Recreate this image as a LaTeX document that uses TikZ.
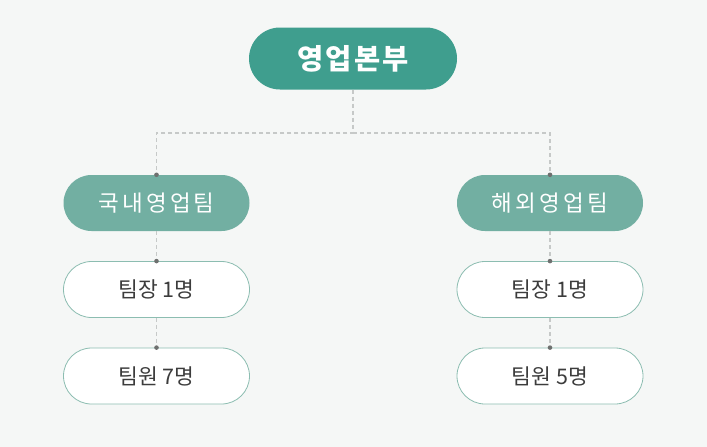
\documentclass[tikz,border=0pt]{standalone}
\usepackage{fontspec}
\newfontfamily\krhead[LetterSpace=8]{Noto Sans CJK KR}
\newfontfamily\krteam[LetterSpace=14]{Noto Sans CJK KR}
\newfontfamily\krtext{Noto Sans CJK KR}
\definecolor{hqgreen}{HTML}{3F9E8E}
\definecolor{teamgreen}{HTML}{72AFA2}
\definecolor{boxline}{HTML}{8CBDB1}
\definecolor{linkgrey}{HTML}{C6C9C8}
\definecolor{dotgrey}{HTML}{6E706F}
\definecolor{bggrey}{HTML}{F5F7F6}
\definecolor{textgrey}{HTML}{3C3C3C}
\tikzset{
  hqbox/.style={fill=hqgreen, text=white, minimum width=208pt, minimum height=62pt,
    rounded corners=31pt, font=\krhead\bfseries\fontsize{28.5}{32}\selectfont},
  teambox/.style={fill=teamgreen, text=white, minimum width=186pt, minimum height=56pt,
    rounded corners=28pt, font=\krteam\fontsize{22.5}{26}\selectfont},
  staffbox/.style={draw=boxline, line width=0.8pt, fill=white, text=textgrey,
    minimum width=186pt, minimum height=56pt, rounded corners=28pt,
    font=\krtext\fontsize{21.5}{25}\selectfont},
  link/.style={draw=linkgrey, line width=1.2pt, dash pattern=on 4pt off 3pt},
  joint/.style={fill=dotgrey}
}
\begin{document}
\begin{tikzpicture}[x=1pt, y=-1pt]
  \fill[bggrey] (0,0) rectangle (707,447);
  \useasboundingbox (0,0) rectangle (707,447);
  % top
  \node[hqbox] (hq) at (353, 58.5) {영업본부};
  \coordinate (split) at (353, 133);
  % teams
  \node[teambox] (dom) at (156.5, 203) {국내영업팀};
  \node[teambox] (ovs) at (550, 203) {해외영업팀};
  \node[staffbox] (domlead) at (156.5, 289.5) {팀장 1명};
  \node[staffbox] (dommem) at (156.5, 376) {팀원 7명};
  \node[staffbox] (ovslead) at (550, 289.5) {팀장 1명};
  \node[staffbox] (ovsmem) at (550, 376) {팀원 5명};
  % links
  \draw[link] (hq.south) -- (split) -| (dom.north);
  \draw[link] (split) -| (ovs.north);
  \draw[link] (dom.south) -- (domlead.north);
  \draw[link] (domlead.south) -- (dommem.north);
  \draw[link] (ovs.south) -- (ovslead.north);
  \draw[link] (ovslead.south) -- (ovsmem.north);
  \foreach \n in {dom, ovs, domlead, dommem, ovslead, ovsmem}
    \fill[joint] (\n.north) circle (2.3pt);
\end{tikzpicture}
\end{document}
